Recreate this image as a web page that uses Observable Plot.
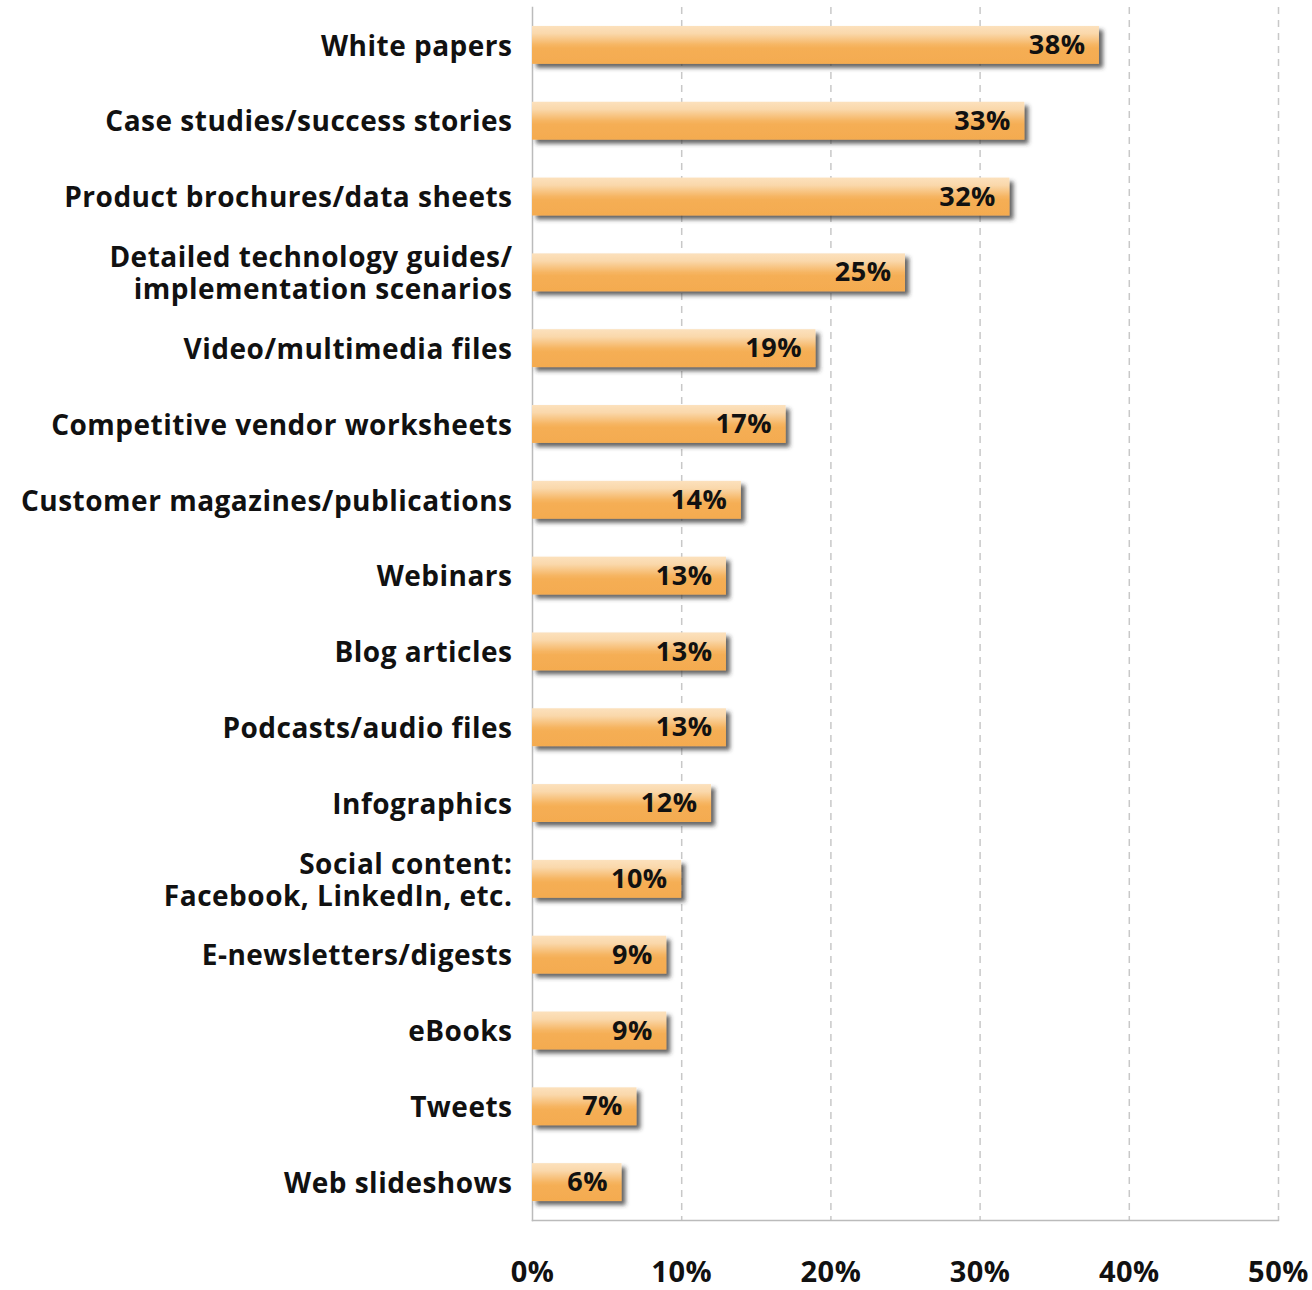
<!DOCTYPE html>
<html>
<head>
<meta charset="utf-8">
<script src="https://cdn.jsdelivr.net/npm/d3@7"></script>
<script src="https://cdn.jsdelivr.net/npm/@observablehq/plot@0.6"></script>
<style>
  html, body { margin: 0; padding: 0; background: #fff; }
  #chart svg { display: block; }
</style>
</head>
<body>
<div id="chart"></div>
<script>
const categories = [
  "White papers",
  "Case studies/success stories",
  "Product brochures/data sheets",
  "Detailed technology guides/\nimplementation scenarios",
  "Video/multimedia files",
  "Competitive vendor worksheets",
  "Customer magazines/publications",
  "Webinars",
  "Blog articles",
  "Podcasts/audio files",
  "Infographics",
  "Social content:\nFacebook, LinkedIn, etc.",
  "E-newsletters/digests",
  "eBooks",
  "Tweets",
  "Web slideshows"
];
const values = [38, 33, 32, 25, 19, 17, 14, 13, 13, 13, 12, 10, 9, 9, 7, 6];
const xTicks = [0, 10, 20, 30, 40, 50];
const gridTicks = [10, 20, 30, 40, 50];

const data = categories.map((c, i) => ({category: c, value: values[i]}));

const chart = Plot.plot({
  width: 1312,
  height: 1290,
  marginLeft: 532,
  marginRight: 34,
  marginTop: 7,
  marginBottom: 70,
  style: {fontFamily: "'Open Sans', Lato, sans-serif", fontWeight: "bold", fontSize: "28px", letterSpacing: "0.5px", color: "#111", background: "#fff"},
  x: {domain: [0, 50]},
  y: {domain: categories, paddingInner: 0.5, paddingOuter: 0.25, round: false},
  marks: [
    Plot.ruleX(gridTicks, {stroke: "#c8c8c8", strokeWidth: 1.5, strokeDasharray: "7,6"}),
    Plot.frame({anchor: "left", stroke: "#bbbbbb", strokeWidth: 1.5}),
    Plot.frame({anchor: "bottom", stroke: "#bbbbbb", strokeWidth: 1.5}),
    Plot.barX(data, {x: "value", y: "category", fill: "url(#barGrad)"}),
    Plot.text(data, {x: "value", y: "category", text: d => d.value + "%", textAnchor: "end", dx: -14, fontSize: 27, fontWeight: "bold", fill: "#111"}),
    Plot.axisX({ticks: xTicks, tickFormat: d => d + "%", tickSize: 0, tickPadding: 41, label: null, fontSize: 29, fontWeight: "bold"}),
    Plot.axisY({tickSize: 0, tickPadding: 20, label: null, fontSize: 28, fontWeight: "bold", lineHeight: 1.14})
  ]
});

const svg = d3.select(chart);
const defs = svg.insert("defs", ":first-child");
const grad = defs.append("linearGradient").attr("id", "barGrad")
  .attr("x1", 0).attr("y1", 0).attr("x2", 0).attr("y2", 1);
[[0, "#fce1bd"], [0.2, "#fad8ab"], [0.5, "#f6b562"], [0.6, "#f5ae54"], [1, "#f4ab50"]].forEach(([o, c]) =>
  grad.append("stop").attr("offset", o).attr("stop-color", c));
const filt = defs.append("filter").attr("id", "barShadow")
  .attr("x", "-5%").attr("y", "-20%").attr("width", "115%").attr("height", "160%");
filt.append("feDropShadow").attr("dx", 4).attr("dy", 4).attr("stdDeviation", 2)
  .attr("flood-color", "#333").attr("flood-opacity", 0.75);
svg.selectAll('g[aria-label="bar"] rect').attr("filter", "url(#barShadow)");

document.getElementById("chart").appendChild(chart);
</script>
</body>
</html>
